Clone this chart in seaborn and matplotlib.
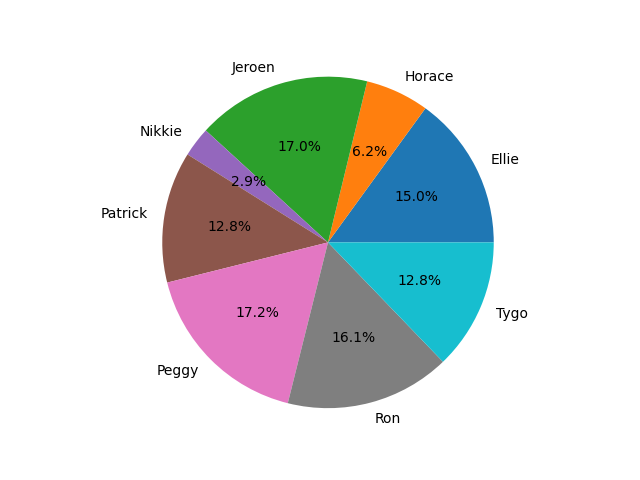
import matplotlib
matplotlib.use("Agg")
import matplotlib.pyplot as plt
import seaborn as sns

# slice shares (percent)
names = ['Ellie', 'Horace', 'Jeroen', 'Nikkie', 'Patrick', 'Peggy', 'Ron', 'Tygo']
shares = [15.0, 6.2, 17.0, 2.9, 12.8, 17.2, 16.1, 12.8]

# tab10 colours, red and olive are not used in the picture
tab10 = sns.color_palette('tab10')
colors = [tab10[i] for i in [0, 1, 2, 4, 5, 6, 7, 9]]

fig, ax = plt.subplots(figsize=(6.4, 4.8), dpi=100)
ax.pie(shares, labels=names, colors=colors, autopct='%1.1f%%')
# the reference pie fills more of the axes
ax.set_xlim(-1.115, 1.115)
ax.set_ylim(-1.115, 1.115)

fig.savefig('out.png')
